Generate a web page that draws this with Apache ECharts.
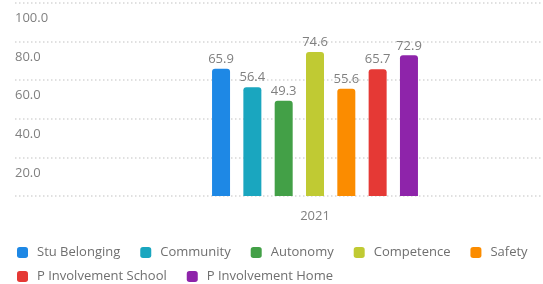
<!DOCTYPE html>
<html>
<head>
<meta charset="utf-8">
<script src="https://cdn.jsdelivr.net/npm/echarts@6/dist/echarts.min.js"></script>
<style>
  html, body { margin: 0; padding: 0; background: #fff; }
  #main { width: 543px; height: 284px; }
</style>
</head>
<body>
<div id="main"></div>
<script>
// data
const years = ['2021'];
const seriesNames = ['Stu Belonging', 'Community', 'Autonomy', 'Competence', 'Safety', 'P Involvement School', 'P Involvement Home'];
const seriesValues = [65.9, 56.4, 49.3, 74.6, 55.6, 65.7, 72.9];
const yTicks = [0, 20, 40, 60, 80, 100];
const colors = ['#1E88E5', '#1AA6BF', '#43A047', '#C0CA33', '#FB8C00', '#E53935', '#8E24AA'];

const chart = echarts.init(document.getElementById('main'));

const font = 'Open Sans';
const yMin = yTicks[0];
const yMax = yTicks[yTicks.length - 1];
const yStep = yTicks[1] - yTicks[0];

// one bar series per measure, drawn in the second (shifted) grid
const series = seriesNames.map(function (name, i) {
    return {
        name: name,
        type: 'bar',
        xAxisIndex: 1,
        yAxisIndex: 1,
        data: [seriesValues[i]],
        barWidth: 18,
        barGap: '74%',
        itemStyle: {
            color: colors[i],
            borderRadius: [3, 3, 0, 0]
        },
        label: {
            show: true,
            position: 'top',
            distance: 3,
            color: '#808080',
            fontFamily: font,
            fontSize: 13,
            formatter: function (p) { return p.value.toFixed(1); }
        }
    };
});

function legendRow(names, top) {
    return {
        data: names,
        left: 12,
        top: top,
        orient: 'horizontal',
        icon: 'roundRect',
        itemWidth: 11,
        itemHeight: 11,
        itemGap: 20,
        textStyle: {
            color: '#6f6f6f',
            fontFamily: font,
            fontSize: 13,
            padding: [0, 0, 0, 4]
        }
    };
}

const option = {
    backgroundColor: '#fff',
    color: colors,
    animation: false,
    // grid 0 carries the dotted lines and y labels, grid 1 carries the bars
    grid: [
        { left: 15, right: 0, top: 3, bottom: 88 },
        { left: 87, right: 0, top: 3, bottom: 88 }
    ],
    legend: [
        legendRow(seriesNames.slice(0, 5), 241),
        legendRow(seriesNames.slice(5), 265)
    ],
    xAxis: [{
        type: 'category',
        gridIndex: 0,
        data: years,
        show: false
    }, {
        type: 'category',
        gridIndex: 1,
        data: years,
        axisLine: { show: false },
        axisTick: { show: false },
        axisLabel: {
            color: '#808080',
            fontFamily: font,
            fontSize: 13,
            margin: 14
        }
    }],
    yAxis: [{
        type: 'value',
        gridIndex: 0,
        min: yMin,
        max: yMax,
        interval: yStep,
        axisLine: { show: false },
        axisTick: { show: false },
        axisLabel: {
            inside: true,
            margin: 0,
            verticalAlign: 'top',
            padding: [9, 0, 0, 0],
            color: '#808080',
            fontFamily: font,
            fontSize: 13,
            formatter: function (v) { return v === 0 ? '' : v.toFixed(1); }
        },
        splitLine: {
            lineStyle: {
                color: '#d6d6d6',
                width: 1.5,
                type: [1.5, 2.5]
            }
        }
    }, {
        type: 'value',
        gridIndex: 1,
        min: yMin,
        max: yMax,
        interval: yStep,
        show: false,
        splitLine: { show: false }
    }],
    series: series
};

chart.setOption(option);
</script>
</body>
</html>
